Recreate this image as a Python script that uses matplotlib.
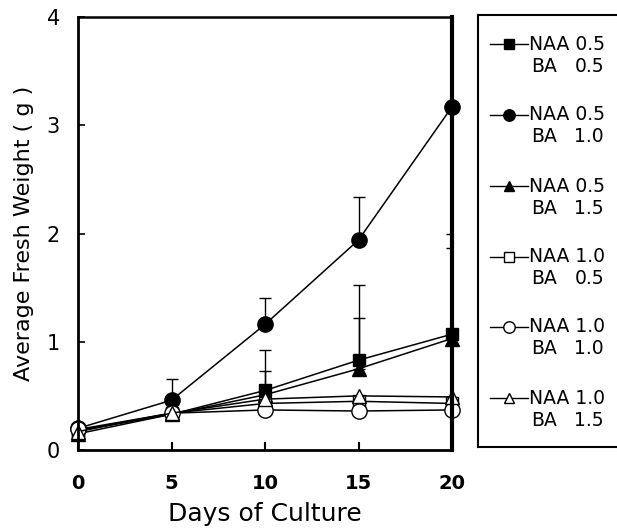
import numpy as np
import matplotlib
matplotlib.use("Agg")
import matplotlib.pyplot as plt

plt.rcParams['font.family'] = ['DejaVu Sans']

# Data
days = [0, 5, 10, 15, 20]

naa05_ba05 = [0.18, 0.33, 0.55, 0.83, 1.07]
naa05_ba10 = [0.20, 0.46, 1.16, 1.94, 3.17]
naa05_ba15 = [0.15, 0.33, 0.51, 0.75, 1.03]
naa10_ba05 = [0.18, 0.34, 0.43, 0.45, 0.43]
naa10_ba10 = [0.19, 0.34, 0.37, 0.36, 0.37]
naa10_ba15 = [0.17, 0.34, 0.47, 0.50, 0.49]

# upper error bar tops (only drawn for filled series)
err_top_05_05 = [0.18, 0.33, 0.92, 1.52, 2.00]
err_top_05_10 = [0.20, 0.66, 1.40, 2.34, 3.17]
err_top_05_15 = [0.15, 0.33, 0.73, 1.22, 1.87]

naa_labels = ["0.5", "0.5", "0.5", "1.0", "1.0", "1.0"]
ba_labels = ["0.5", "1.0", "1.5", "0.5", "1.0", "1.5"]

series = [naa05_ba05, naa05_ba10, naa05_ba15, naa10_ba05, naa10_ba10, naa10_ba15]
markers = ['s', 'o', '^', 's', 'o', '^']
fills = ['k', 'k', 'k', 'w', 'w', 'w']
msizes = [9, 11, 9.5, 9, 11, 9.5]
errs = [err_top_05_05, err_top_05_10, err_top_05_15, None, None, None]

fig = plt.figure(figsize=(6.17, 5.28), dpi=100)
ax = fig.add_axes([78 / 617, 1 - 450 / 528, 374 / 617, 433 / 528])

# error bars first so markers sit on top
for vals, top in zip(series, errs):
    if top is None:
        continue
    up = np.array(top) - np.array(vals)
    lo = np.zeros_like(up)
    ax.errorbar(days, vals, yerr=[lo, up], fmt='none', ecolor='k',
                elinewidth=1, capsize=4, capthick=1, zorder=1)

for vals, m, fc, ms in zip(series, markers, fills, msizes):
    ax.plot(days, vals, color='k', lw=1.1, marker=m, ms=ms,
            mfc=fc, mec='k', mew=1.0, clip_on=False, zorder=3)

ax.set_xlim(0, 20)
ax.set_ylim(0, 4)
ax.set_xticks(days)
ax.set_yticks([0, 1, 2, 3, 4])
ax.tick_params(axis='x', direction='in', length=6, width=1.5, pad=17,
               labelsize=14)
ax.tick_params(axis='y', direction='in', length=5, width=1.2, pad=13,
               labelsize=15)
for lab in ax.get_xticklabels():
    lab.set_fontweight('bold')

ax.spines['left'].set_linewidth(2)
ax.spines['bottom'].set_linewidth(2)
ax.spines['right'].set_linewidth(3)
ax.spines['top'].set_linewidth(1.8)
for s in ax.spines.values():
    s.set_zorder(5)

ax.set_xlabel("Days of Culture", fontsize=18, labelpad=7)
ax.set_ylabel("Average Fresh Weight ( g )", fontsize=16, labelpad=9)

# legend box drawn by hand
lax = fig.add_axes([478 / 617, 1 - 447 / 528, 139 / 617, 432 / 528])
lax.set_xlim(478, 617)
lax.set_ylim(447, 15)
lax.set_xticks([])
lax.set_yticks([])
for s in lax.spines.values():
    s.set_linewidth(1.5)
lax.spines['right'].set_visible(False)

row_y = [44, 115, 186, 257, 327, 398]
for y, m, fc, ms, naa, ba in zip(row_y, markers, fills, msizes,
                                  naa_labels, ba_labels):
    lax.plot([490, 528], [y, y], color='k', lw=1)
    lax.plot([509], [y], marker=m, ms=ms * 0.75, mfc=fc, mec='k', mew=1)
    lax.text(529, y, "NAA " + naa, fontsize=13.5, va='center', ha='left')
    lax.text(531, y + 22, "BA", fontsize=13.5, va='center', ha='left')
    lax.text(604, y + 22, ba, fontsize=13.5, va='center', ha='right')

fig.savefig("out.png", dpi=100)
